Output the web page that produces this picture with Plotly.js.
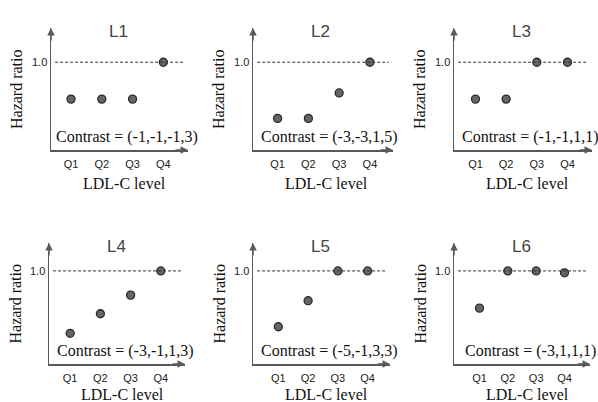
<!DOCTYPE html>
<html>
<head>
<meta charset="utf-8">
<script src="https://cdn.plot.ly/plotly-3.0.1.min.js"></script>
<style>html,body{margin:0;padding:0;background:#fff}#chart{width:598px;height:402px}</style>
</head>
<body>
<div id="chart"></div>
<script>
// ---- data ----
const quartiles = ["Q1", "Q2", "Q3", "Q4"];
const quartilePos = [1, 2, 3, 4];
const panelNames = ["L1", "L2", "L3", "L4", "L5", "L6"];
const contrasts = ["Contrast = (-1,-1,-1,3)", "Contrast = (-3,-3,1,5)", "Contrast = (-1,-1,1,1)",
                   "Contrast = (-3,-1,1,3)", "Contrast = (-5,-1,3,3)", "Contrast = (-3,1,1,1)"];
const hrL1 = [0.58, 0.58, 0.58, 1.0];
const hrL2 = [0.36, 0.36, 0.65, 1.0];
const hrL3 = [0.58, 0.58, 1.0, 1.0];
const hrL4 = [0.33, 0.54, 0.74, 1.0];
const hrL5 = [0.40, 0.68, 1.0, 1.0];
const hrL6 = [0.60, 1.0, 1.0, 0.98];
const hazardSeries = [hrL1, hrL2, hrL3, hrL4, hrL5, hrL6];
const refValue = 1.0;
const refLabel = "1.0";
const xTitle = "LDL-C level";
const yTitle = "Hazard ratio";

// ---- layout geometry (pixels) ----
const W = 598, H = 402;
const px = v => v / W;
const py = v => 1 - v / H;
const boxes = [
  {x0: 51, x1: 188, top: 28, bot: 150, yMax: 1.39, xr: [0.35, 4.8], tOff: 33},
  {x0: 253, x1: 393, top: 28, bot: 150, yMax: 1.39, xr: [0.2, 4.75], tOff: 33},
  {x0: 454, x1: 592, top: 28, bot: 150, yMax: 1.39, xr: [0.3, 4.8], tOff: 33},
  {x0: 49, x1: 185, top: 243, bot: 364, yMax: 1.30, xr: [0.3, 4.8], tOff: 30},
  {x0: 253, x1: 390, top: 243, bot: 364, yMax: 1.30, xr: [0.15, 4.75], tOff: 30},
  {x0: 454, x1: 590, top: 243, bot: 364, yMax: 1.30, xr: [0.1, 4.9], tOff: 30}
];
const axisColor = "#5a5a5a";
const serif = "'Liberation Serif', 'Times New Roman', serif";
const sans = "'Liberation Sans', Arial, sans-serif";

const data = [];
const layout = {
  width: W, height: H,
  margin: {l: 0, r: 0, t: 0, b: 0},
  paper_bgcolor: "#fff", plot_bgcolor: "#fff",
  showlegend: false,
  shapes: [], annotations: []
};

function label(x, y, text, font, angle) {
  return {xref: "paper", yref: "paper", x: x, y: y, xanchor: "center", yanchor: "middle",
          text: text, showarrow: false, font: font, textangle: angle || 0};
}

boxes.forEach((b, i) => {
  const n = i + 1;
  const xa = n === 1 ? "x" : "x" + n;
  const ya = n === 1 ? "y" : "y" + n;
  const xk = n === 1 ? "xaxis" : "xaxis" + n;
  const yk = n === 1 ? "yaxis" : "yaxis" + n;
  data.push({
    type: "scatter", mode: "markers",
    x: quartilePos, y: hazardSeries[i],
    xaxis: xa, yaxis: ya,
    marker: {size: 8, color: "#666", line: {color: "#2a2a2a", width: 1.3}},
    hoverinfo: "skip"
  });
  layout[xk] = {
    domain: [px(b.x0), px(b.x1)], anchor: ya,
    range: b.xr, fixedrange: true,
    showline: true, linecolor: axisColor, linewidth: 1.5,
    showgrid: false, zeroline: false, ticks: "",
    ticklabelstandoff: 3,
    tickvals: quartilePos, ticktext: quartiles,
    tickfont: {family: sans, size: 11, color: "#222"}
  };
  layout[yk] = {
    domain: [py(b.bot), py(b.top)], anchor: xa,
    range: [0, b.yMax], fixedrange: true,
    showline: true, linecolor: axisColor, linewidth: 1.5,
    showgrid: false, zeroline: false, ticks: "",
    tickvals: [refValue], ticktext: [refLabel],
    tickfont: {family: sans, size: 11, color: "#222"}
  };
  layout.shapes.push({
    type: "line", xref: xa + " domain", yref: ya,
    x0: 0.03, x1: 0.97, y0: refValue, y1: refValue,
    line: {color: "#333", width: 1, dash: "3px,2px"}
  });
  layout.annotations.push({
    xref: xa + " domain", yref: ya + " domain", x: 1, y: 0,
    ax: -14, ay: 0, text: "", showarrow: true,
    arrowhead: 2, arrowsize: 1, arrowwidth: 1.5, arrowcolor: axisColor
  });
  layout.annotations.push({
    xref: xa + " domain", yref: ya + " domain", x: 0, y: 1,
    ax: 0, ay: 14, text: "", showarrow: true,
    arrowhead: 2, arrowsize: 1, arrowwidth: 1.5, arrowcolor: axisColor
  });
  layout.annotations.push(label(px(b.x0 + 67), py(b.top + 3), panelNames[i],
    {family: sans, size: 17, color: "#444"}));
  layout.annotations.push(label(px(b.x0 + 76), py(b.bot - 13), contrasts[i],
    {family: serif, size: 16, color: "#111"}));
  layout.annotations.push(label(px(b.x0 + 73), py(b.bot + b.tOff), xTitle,
    {family: serif, size: 16, color: "#111"}));
  layout.annotations.push(label(px(b.x0 - 34), py((b.top + b.bot) / 2), yTitle,
    {family: serif, size: 16, color: "#111"}, -90));
});

Plotly.newPlot("chart", data, layout, {staticPlot: true, displayModeBar: false});
</script>
</body>
</html>
